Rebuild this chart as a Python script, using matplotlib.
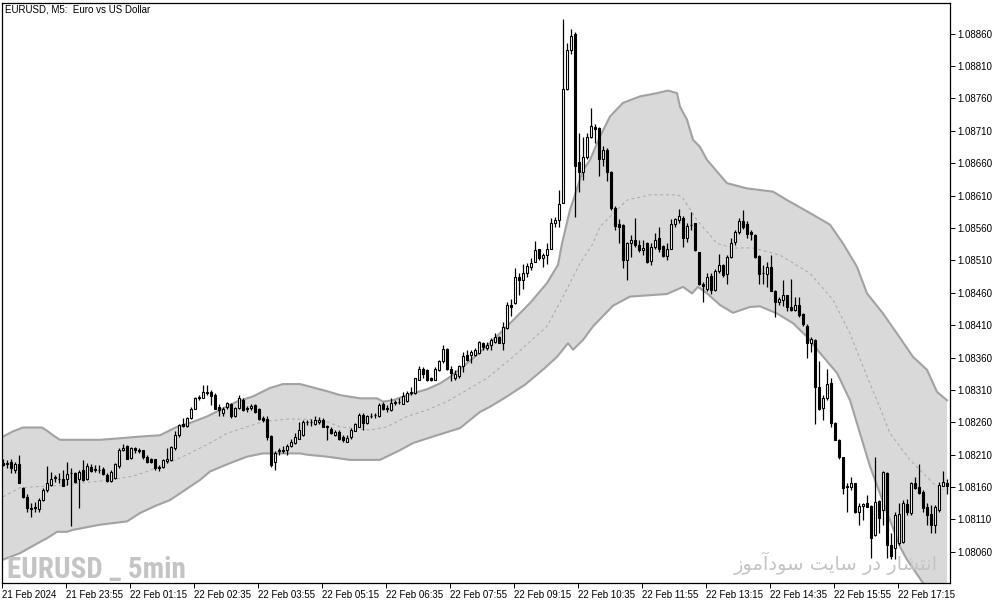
import matplotlib
matplotlib.use("Agg")
import numpy as np
import matplotlib.pyplot as plt
from matplotlib import font_manager
from matplotlib.ticker import FormatStrFormatter

# prices are stored in points (0.00001) above 1.08000
BASE = 1.08

# candles, one value per 5 min bar (bar 1 = 21 Feb 22:35)
open_pts = [197, 195, 198, 187, 195, 158, 145, 128, 127, 126,
            140, 155, 163, 174, 173, 172, 173, 181, 181, 173,
            186, 172, 191, 188, 187, 188, 179, 169, 174, 192,
            218, 223, 205, 220, 217, 217, 207, 203, 203, 191,
            191, 200, 202, 220, 240, 257, 255, 266, 281, 298,
            298, 306, 306, 302, 284, 275, 284, 288, 269, 282,
            294, 282, 282, 287, 280, 266, 265, 239, 199, 215,
            216, 217, 223, 228, 235, 240, 261, 260, 258, 261,
            264, 254, 250, 240, 245, 238, 230, 237, 247, 253,
            271, 259, 269, 271, 269, 288, 282, 279, 290, 291,
            289, 293, 305, 305, 326, 343, 340, 328, 326, 341,
            354, 373, 343, 328, 331, 347, 364, 364, 364, 367,
            382, 374, 379, 384, 391, 382, 405, 441, 444, 485,
            480, 490, 499, 508, 527, 513, 518, 528, 567, 572,
            599, 775, 835, 860, 661, 647, 669, 700, 716, 714,
            666, 680, 647, 590, 566, 564, 511, 536, 542, 534,
            526, 536, 509, 531, 545, 532, 517, 528, 566, 572,
            576, 545, 564, 567, 523, 473, 465, 486, 464, 494,
            503, 489, 515, 539, 553, 571, 566, 553, 549, 517,
            490, 489, 499, 463, 446, 449, 456, 438, 434, 441,
            427, 409, 382, 387, 314, 282, 298, 320, 259, 233,
            206, 160, 160, 166, 121, 131, 135, 131, 86, 139,
            125, 182, 71, 66, 73, 76, 134, 120, 167, 160,
            153, 129, 119, 101, 124, 162, 167]
high_pts = [204, 202, 204, 199, 209, 160, 150, 135, 137, 143,
            158, 192, 184, 179, 181, 186, 198, 190, 184, 186,
            202, 197, 195, 194, 194, 191, 181, 187, 197, 220,
            226, 225, 222, 222, 220, 218, 209, 205, 204, 194,
            204, 220, 223, 246, 258, 266, 268, 283, 299, 302,
            318, 318, 310, 305, 289, 284, 292, 290, 284, 302,
            297, 285, 289, 289, 282, 269, 269, 240, 215, 220,
            223, 226, 235, 243, 261, 264, 264, 265, 270, 268,
            266, 256, 253, 248, 248, 240, 240, 251, 259, 274,
            274, 271, 274, 274, 290, 292, 287, 297, 294, 297,
            307, 309, 314, 329, 347, 346, 343, 330, 345, 356,
            379, 374, 347, 341, 348, 369, 372, 371, 374, 386,
            384, 384, 390, 398, 393, 415, 445, 451, 498, 490,
            505, 506, 513, 540, 528, 522, 536, 576, 577, 619,
            883, 845, 867, 863, 706, 701, 707, 745, 721, 716,
            686, 684, 648, 594, 573, 566, 539, 549, 576, 541,
            541, 539, 536, 552, 561, 534, 536, 573, 576, 589,
            578, 567, 585, 568, 523, 477, 490, 490, 496, 520,
            505, 518, 545, 557, 575, 587, 570, 557, 551, 518,
            503, 508, 518, 464, 453, 480, 457, 481, 453, 454,
            429, 412, 392, 388, 354, 302, 343, 328, 261, 234,
            207, 166, 176, 167, 135, 135, 148, 132, 207, 140,
            185, 184, 89, 122, 135, 140, 141, 168, 175, 196,
            156, 136, 132, 132, 168, 185, 173]
low_pts = [192, 190, 181, 181, 166, 143, 122, 114, 122, 121,
           139, 153, 161, 168, 166, 161, 163, 100, 167, 127,
           170, 171, 184, 184, 181, 179, 168, 168, 173, 190,
           215, 203, 204, 212, 212, 204, 197, 197, 187, 185,
           190, 197, 201, 218, 238, 253, 253, 265, 280, 294,
           297, 302, 287, 281, 269, 269, 281, 267, 268, 281,
           278, 276, 279, 275, 264, 261, 233, 191, 186, 209,
           212, 210, 222, 227, 234, 239, 256, 254, 256, 258,
           252, 233, 242, 239, 233, 229, 229, 235, 246, 252,
           248, 258, 266, 266, 268, 279, 276, 278, 287, 288,
           288, 292, 302, 304, 325, 329, 323, 324, 325, 339,
           352, 341, 324, 325, 329, 338, 354, 351, 362, 366,
           372, 372, 372, 383, 382, 372, 404, 424, 443, 456,
           465, 485, 495, 507, 511, 499, 505, 527, 562, 562,
           598, 773, 828, 577, 616, 634, 667, 698, 691, 640,
           656, 633, 588, 557, 536, 498, 480, 515, 531, 523,
           518, 506, 503, 528, 523, 515, 510, 527, 562, 567,
           530, 539, 557, 525, 472, 446, 462, 458, 463, 490,
           485, 473, 513, 534, 551, 558, 544, 541, 513, 474,
           473, 469, 462, 423, 441, 439, 431, 431, 432, 423,
           409, 359, 369, 257, 279, 264, 294, 252, 232, 204,
           150, 122, 155, 120, 102, 109, 130, 50, 84, 89,
           102, 50, 49, 49, 71, 73, 117, 117, 157, 149,
           122, 102, 89, 89, 122, 161, 150]
close_pts = [194, 197, 189, 195, 167, 144, 127, 126, 129, 140,
             155, 166, 173, 175, 172, 162, 180, 182, 168, 184,
             171, 193, 185, 186, 186, 180, 169, 184, 195, 218,
             221, 204, 221, 217, 215, 206, 198, 199, 190, 189,
             202, 203, 222, 241, 256, 254, 266, 281, 297, 299,
             306, 305, 301, 281, 279, 281, 290, 269, 282, 297,
             279, 281, 285, 276, 265, 264, 238, 194, 212, 217,
             217, 223, 230, 238, 248, 261, 260, 261, 263, 264,
             253, 252, 243, 245, 234, 232, 236, 248, 257, 271,
             259, 269, 270, 271, 287, 280, 280, 290, 291, 292,
             301, 305, 306, 328, 342, 334, 326, 325, 342, 354,
             373, 343, 336, 334, 347, 362, 356, 369, 372, 384,
             376, 379, 387, 391, 383, 407, 441, 438, 485, 480,
             490, 501, 506, 526, 513, 518, 528, 568, 572, 597,
             775, 835, 856, 655, 647, 670, 701, 717, 712, 666,
             680, 647, 590, 563, 562, 510, 536, 542, 534, 526,
             529, 508, 531, 542, 527, 517, 528, 566, 573, 578,
             545, 563, 564, 526, 473, 471, 485, 464, 494, 503,
             487, 515, 537, 553, 571, 562, 551, 550, 515, 489,
             491, 499, 463, 446, 450, 457, 438, 434, 441, 426,
             412, 382, 388, 314, 280, 298, 319, 259, 233, 206,
             158, 162, 167, 121, 131, 134, 130, 81, 137, 112,
             184, 71, 53, 117, 119, 135, 121, 167, 158, 151,
             127, 117, 101, 130, 163, 168, 161]

# envelope bands, sampled along the bar axis
upper_bar = [1, 3.5, 6, 10.75, 12, 13.5, 15.25, 25.25, 29.5, 35.25,
             40.25, 44.5, 47.75, 52, 55.25, 59.5, 63.5, 67.75, 71, 75.25,
             77.75, 82, 85.25, 90.25, 94.5, 96, 98.5, 102, 107, 110.25,
             112.75, 116, 118.5, 122, 127, 132.75, 137, 139.75, 140.75, 142.75,
             144, 146, 147.75, 150.25, 152.75, 156, 160.25, 164.5, 167.25, 169.5,
             170.25, 172, 173.5, 175.25, 177, 182, 187, 193.5, 197, 202.75,
             207.75, 211, 214.5, 217, 221, 224.5, 228.5, 232, 234.5, 237]
upper_pts = [238, 246, 252, 252, 247, 240, 233, 233, 235, 238,
             240, 253, 259, 269, 279, 292, 300, 313, 319, 319,
             315, 308, 302, 297, 297, 292, 294, 302, 311, 320,
             330, 346, 359, 378, 408, 444, 475, 503, 536, 588,
             611, 649, 665, 701, 732, 753, 763, 768, 772, 768,
             747, 727, 696, 685, 665, 629, 621, 616, 603, 583,
             565, 536, 500, 459, 428, 397, 361, 341, 307, 294]
mid_bar = [1, 5.25, 10.25, 17, 20.25, 27.75, 33.5, 37, 40.25, 47,
           52.75, 57, 62, 66, 72, 77, 82, 85.25, 92.75, 97,
           102, 107, 112, 117, 122, 128.5, 137, 141, 145.25, 148.5,
           150.25, 157, 162.75, 169.5, 170.75, 174.5, 179.5, 183.5, 188.5, 193.5,
           195.25, 202.75, 208.5, 212.75, 216, 219.5, 222.75, 227.75, 233.5, 236]
mid_pts = [145, 159, 161, 163, 166, 171, 177, 184, 192, 210,
           228, 243, 253, 261, 265, 265, 261, 253, 248, 253,
           269, 279, 292, 310, 328, 361, 408, 454, 505, 536,
           562, 603, 611, 611, 608, 572, 536, 529, 529, 521,
           518, 490, 449, 397, 346, 294, 243, 202, 166, 156]
lower_bar = [1, 5.25, 11, 12, 14.5, 17, 18.5, 25.25, 32, 35.25,
             39.5, 42.75, 50.25, 52.75, 57.75, 62, 66, 75.25, 77, 82,
             87.75, 95.25, 100.25, 103.5, 108.5, 115.25, 120.25, 122.75, 126.5, 131.5,
             136.5, 139.5, 142.25, 143.5, 146, 148.5, 153.5, 157.75, 167, 171,
             173.25, 174.75, 177, 180.25, 183.5, 187.75, 190.25, 194.5, 198.5, 202,
             205.25, 209.5, 212.75, 215.25, 217.75, 220.25, 222.75, 225.25, 227, 231,
             237]
lower_pts = [48, 58, 78, 81, 91, 91, 94, 102, 107, 120,
             132, 140, 171, 184, 197, 207, 212, 212, 210, 207,
             202, 202, 217, 228, 238, 251, 276, 284, 298, 318,
             344, 361, 382, 372, 387, 408, 440, 454, 458, 469,
             459, 469, 459, 441, 429, 438, 439, 428, 413, 392,
             367, 336, 294, 243, 192, 150, 109, 68, 48, 12,
             -45]

price_ticks = [1.08060, 1.08110, 1.08160, 1.08210, 1.08260, 1.08310, 1.08360, 1.08410,
               1.08460, 1.08510, 1.08560, 1.08610, 1.08660, 1.08710, 1.08760, 1.08810, 1.08860]
time_tick_bars = [1, 17, 33, 49, 65, 81, 97, 113, 129, 145, 161, 177, 193, 209, 225]
time_labels = ["21 Feb 2024", "21 Feb 23:55", "22 Feb 01:15", "22 Feb 02:35", "22 Feb 03:55",
               "22 Feb 05:15", "22 Feb 06:35", "22 Feb 07:55", "22 Feb 09:15", "22 Feb 10:35",
               "22 Feb 11:55", "22 Feb 13:15", "22 Feb 14:35", "22 Feb 15:55", "22 Feb 17:15"]

n_bars = len(open_pts)
assert len(high_pts) == n_bars and len(low_pts) == n_bars and len(close_pts) == n_bars
assert len(upper_bar) == len(upper_pts) and len(mid_bar) == len(mid_pts) and len(lower_bar) == len(lower_pts)


def to_price(pts):
    return BASE + np.asarray(pts, dtype=float) / 1e5


installed = {f.name for f in font_manager.fontManager.ttflist}
plt.rcParams['font.family'] = ['Liberation Sans', 'DejaVu Sans']

o = to_price(open_pts)
h = to_price(high_pts)
l = to_price(low_pts)
c = to_price(close_pts)
x = np.arange(1, n_bars + 1)

fig = plt.figure(figsize=(10.03, 6.05), dpi=100)
ax = fig.add_axes([2 / 1003, 22 / 605, 948 / 1003, 580 / 605])

# band fill + edges
poly_x = np.concatenate([upper_bar, lower_bar[::-1]])
poly_y = np.concatenate([to_price(upper_pts), to_price(lower_pts)[::-1]])
ax.fill(poly_x, poly_y, color='#d9d9d9', lw=0, zorder=1)
ax.plot(upper_bar, to_price(upper_pts), color='#a2a2a2', lw=1.5, zorder=2)
ax.plot(lower_bar, to_price(lower_pts), color='#a2a2a2', lw=1.5, zorder=2)
ax.plot(mid_bar, to_price(mid_pts), color='#a8a8a8', lw=0.7, ls=(0, (3, 3)), zorder=2)

# watermarks
wm_font = 'DejaVu Sans'
for name in ['Liberation Sans Narrow', 'Roboto Condensed', 'DejaVu Sans Condensed']:
    if name in installed:
        wm_font = name
        break
fig.text(7 / 1003, 1 - 578 / 605, "EURUSD _ 5min", fontsize=21, fontweight='bold',
         family=wm_font, fontstretch='condensed', color='#c4c4c4', va='baseline', ha='left', zorder=3)
fa_text = ("\uFEAF\uFEEE\uFEE3\uFE81\uFEA9\uFEEE\uFEB3 \uFE96\uFEF3\uFE8E\uFEB3 "
           "\uFEAD\uFEA9 \uFEAD\uFE8E\uFEB8\uFE98\uFEE7\uFE8D")  # انتشار در سایت سودآموز
fig.text(836 / 1003, 1 - 563 / 605, fa_text, fontsize=14, family='DejaVu Sans',
         color='#c4c4c4', va='center', ha='center', zorder=3)

# candles
ax.vlines(x, l, h, color='black', lw=0.9, zorder=4)
body_bot = np.minimum(o, c)
body_h = np.maximum(np.abs(c - o), 0.000006)
face = np.where(c >= o, 'white', 'black')
ax.bar(x, body_h, bottom=body_bot, width=0.62, color=face, edgecolor='black', lw=0.8, zorder=5)

fig.text(5 / 1003, 1 - 4 / 605, "EURUSD, M5:  Euro vs US Dollar", fontsize=7, va='top', ha='left')

ax.set_xlim(0.75, n_bars + 0.75)
ax.set_ylim(1.080120, 1.089071)

ax.yaxis.tick_right()
ax.set_yticks(price_ticks)
ax.yaxis.set_major_formatter(FormatStrFormatter('%.5f'))
ax.tick_params(axis='y', direction='out', length=3.5, width=0.7, labelsize=7, pad=2)
ax.set_xticks(np.array(time_tick_bars) - 0.25)
ax.set_xticklabels(time_labels)
for lab in ax.get_xticklabels():
    lab.set_horizontalalignment('left')
ax.tick_params(axis='x', direction='out', length=3.5, width=0.7, labelsize=7, pad=1.5)
for sp in ax.spines.values():
    sp.set_color('black')
    sp.set_linewidth(0.9)

fig.savefig('out.png', dpi=100)
